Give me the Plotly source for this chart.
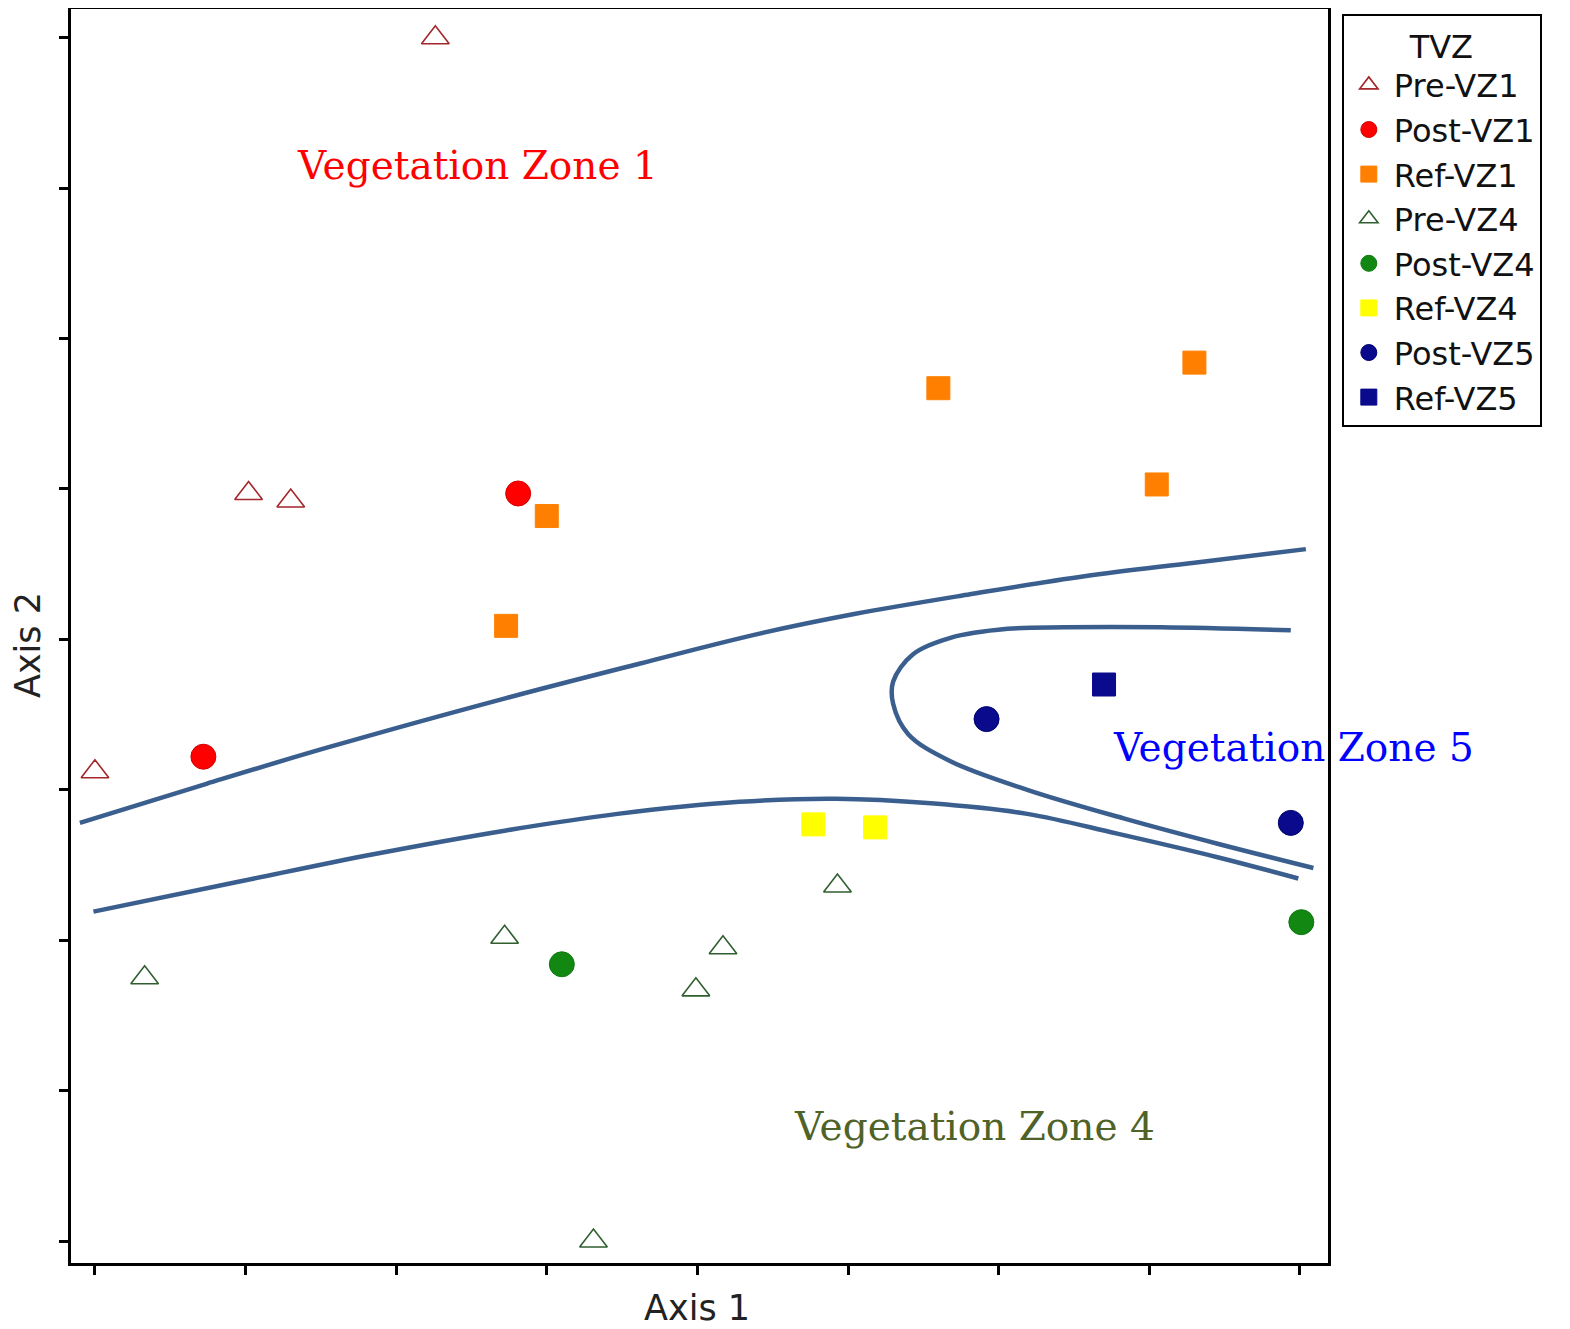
import plotly.graph_objects as go

# ---- data (axis units; axes are unlabeled ordination axes) ----
pre_vz1_x = [2.26, 1.02, 1.30, 0.00]
pre_vz1_y = [8.00, 4.97, 4.92, 3.12]
post_vz1_x = [2.81, 0.72]
post_vz1_y = [4.97, 3.22]
ref_vz1_x = [5.60, 7.30, 7.05, 3.00, 2.73]
ref_vz1_y = [5.67, 5.84, 5.03, 4.82, 4.09]
pre_vz4_x = [0.33, 2.72, 3.99, 4.17, 4.93, 3.31]
pre_vz4_y = [1.75, 2.02, 1.67, 1.95, 2.36, 0.00]
post_vz4_x = [3.10, 8.01]
post_vz4_y = [1.84, 2.12]
ref_vz4_x = [4.77, 5.18]
ref_vz4_y = [2.77, 2.75]
post_vz5_x = [5.92, 7.94]
post_vz5_y = [3.47, 2.78]
ref_vz5_x = [6.70]
ref_vz5_y = [3.70]

# boundary curves (hand-drawn zone separators)
upper_x = [-0.10, 0.74, 1.54, 2.73, 3.62, 4.42, 5.05, 5.81, 6.57, 7.30, 8.04]
upper_y = [2.78, 3.04, 3.28, 3.61, 3.84, 4.04, 4.17, 4.30, 4.42, 4.51, 4.60]
lower_x = [-0.01, 0.96, 1.84, 2.73, 3.47, 4.28, 4.92, 5.55, 6.19, 6.78, 7.46, 7.99]
lower_y = [2.19, 2.39, 2.57, 2.73, 2.84, 2.92, 2.94, 2.91, 2.84, 2.71, 2.55, 2.41]
hook_x = [7.94, 7.08, 6.44, 6.06, 5.68, 5.43, 5.30, 5.30, 5.40, 5.68, 6.19, 6.83, 7.46, 8.09]
hook_y = [4.06, 4.08, 4.08, 4.07, 4.01, 3.90, 3.72, 3.57, 3.37, 3.19, 3.00, 2.81, 2.64, 2.48]

zone_labels = ["Vegetation Zone 1", "Vegetation Zone 5", "Vegetation Zone 4"]
zone_x = [2.54, 7.96, 5.84]
zone_y = [7.15, 3.28, 0.76]
zone_colors = ["#FF0000", "#0000FF", "#4F6228"]

x_ticks = list(range(0, 9))
y_ticks = list(range(0, 9))

fig = go.Figure()

curve_color = "#3A5F8E"
for cx, cy in [(upper_x, upper_y), (lower_x, lower_y), (hook_x, hook_y)]:
    fig.add_trace(go.Scatter(x=cx, y=cy, mode="lines", showlegend=False,
                             line=dict(color=curve_color, width=4.5, shape="spline", smoothing=1.0),
                             hoverinfo="skip"))

series = [
    ("Pre-VZ1", pre_vz1_x, pre_vz1_y, "triangle-up-open", "#A3262A", 24, "#A3262A"),
    ("Post-VZ1", post_vz1_x, post_vz1_y, "circle", "#FF0000", 25, "#D00000"),
    ("Ref-VZ1", ref_vz1_x, ref_vz1_y, "square", "#FF8000", 23, "#FF8000"),
    ("Pre-VZ4", pre_vz4_x, pre_vz4_y, "triangle-up-open", "#2F5F2F", 24, "#2F5F2F"),
    ("Post-VZ4", post_vz4_x, post_vz4_y, "circle", "#128712", 25, "#0F7A0F"),
    ("Ref-VZ4", ref_vz4_x, ref_vz4_y, "square", "#FFFF00", 23, "#FFFF00"),
    ("Post-VZ5", post_vz5_x, post_vz5_y, "circle", "#0A0A8C", 25, "#000070"),
    ("Ref-VZ5", ref_vz5_x, ref_vz5_y, "square", "#0A0A8C", 23, "#0A0A8C"),
]
for name, xs, ys, sym, col, size, lc in series:
    fig.add_trace(go.Scatter(
        x=xs, y=ys, mode="markers", name=name,
        marker=dict(symbol=sym, color=col, size=size,
                    line=dict(color=lc, width=1.6 if "open" in sym else 1))))

for txt, tx, ty, tc in zip(zone_labels, zone_x, zone_y, zone_colors):
    fig.add_annotation(x=tx, y=ty, text=txt, showarrow=False,
                       font=dict(family="DejaVu Serif", size=39, color=tc),
                       xanchor="center", yanchor="middle")

# axis titles
fig.add_annotation(xref="paper", yref="paper", x=0.498, y=-0.036, text="Axis 1",
                   showarrow=False, font=dict(family="DejaVu Sans", size=35, color="#222"),
                   xanchor="center", yanchor="middle")
fig.add_annotation(xref="paper", yref="paper", x=-0.034, y=0.493, text="Axis 2",
                   showarrow=False, textangle=-90,
                   font=dict(family="DejaVu Sans", size=35, color="#222"),
                   xanchor="center", yanchor="middle")

axis_common = dict(showgrid=False, zeroline=False, showline=True, linecolor="black",
                   linewidth=3, mirror=True, ticks="outside", ticklen=9, tickwidth=3,
                   tickcolor="black", showticklabels=False)

fig.update_layout(
    width=1570, height=1329,
    margin=dict(l=63, r=250, t=1, b=74, autoexpand=False),
    paper_bgcolor="white", plot_bgcolor="white",
    xaxis=dict(range=[-0.159, 8.187], tickvals=x_ticks, **axis_common),
    yaxis=dict(range=[-0.146, 8.191], tickvals=y_ticks, **axis_common),
    legend=dict(x=1.011, y=0.996, xanchor="left", yanchor="top",
                bordercolor="black", borderwidth=2, bgcolor="white",
                font=dict(family="DejaVu Sans", size=32, color="#111"),
                title=dict(text="TVZ", side="top center",
                           font=dict(family="DejaVu Sans", size=32, color="#111")),
                itemwidth=40),
    showlegend=True,
)

fig.write_html("out.html")
